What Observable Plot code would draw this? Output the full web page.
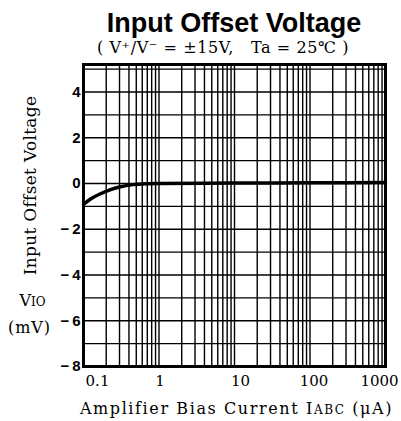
<!DOCTYPE html>
<html>
<head>
<meta charset="utf-8">
<script src="https://cdn.jsdelivr.net/npm/d3@7"></script>
<script src="https://cdn.jsdelivr.net/npm/@observablehq/plot@0.6"></script>
<style>
  html, body { margin: 0; padding: 0; background: #fff; }
  #wrap { position: relative; width: 401px; height: 421px; overflow: hidden; }
  #title { position: absolute; left: 0; top: 11px; width: 468px; text-align: center;
    font: bold 27px "Liberation Sans", Arial, sans-serif; line-height: 24px; color: #000; white-space: nowrap; }
  #subtitle { position: absolute; left: 0; top: 40px; width: 446px; text-align: center;
    font: 16px "DejaVu Serif", serif; line-height: 16px; color: #000; white-space: pre; letter-spacing: 0.6px; }
  #chart { position: absolute; left: 0; top: 56px; }
</style>
</head>
<body>
<div id="wrap">
  <div id="title">Input Offset Voltage</div>
  <div id="subtitle">( V⁺/V⁻ = ±15V,   Ta = 25℃ )</div>
  <div id="chart"></div>
</div>
<script>
// Curve: amplifier bias current (µA) vs input offset voltage (mV)
const biasCurrent   = [0.1, 0.124, 0.168, 0.228, 0.31, 0.45, 0.7, 1, 10, 100, 1000];
const offsetVoltage = [-0.92, -0.68, -0.45, -0.27, -0.14, -0.05, -0.01, 0, 0.02, 0.03, 0.04];

const xTickValues = [0.1, 1, 10, 100, 1000];
const xTickLabels = ["0.1", "1", "10", "100", "1000"];
const yTickValues = [4, 2, 0, -2, -4, -6, -8];
const yGridValues = [-7, -6, -5, -4, -3, -2, -1, 0, 1, 2, 3, 4, 5];
const xGridMantissas = [1, 2, 3, 4, 5, 6, 7, 8, 9];
const xGridDecades = [0.1, 1, 10, 100];

const xLabel = "Amplifier Bias Current IABC (μA)";
const yLabel = "Input Offset Voltage";

const data = biasCurrent.map((x, i) => ({x, y: offsetVoltage[i]}));
const xGrid = xGridDecades.flatMap(d => xGridMantissas.map(m => m * d)).concat([1000]);

const serif = "DejaVu Serif, serif";
const xLabelShift = [14, 1, 6, 4, -6];

const xTickMarks = xTickValues.map((v, i) => Plot.text([v], {
  x: d => d, frameAnchor: "bottom", dy: 19, dx: xLabelShift[i], textAnchor: "middle",
  text: () => xTickLabels[i], fontSize: 15, fontFamily: serif, fill: "#000"
}));

const chart = Plot.plot({
  width: 401, height: 365,
  marginLeft: 83, marginRight: 16, marginTop: 8, marginBottom: 55,
  x: {type: "log", domain: [0.1, 1000], axis: null},
  y: {domain: [-8, 5.2], axis: null},
  style: {background: "#fff", overflow: "visible"},
  marks: [
    Plot.ruleX(xGrid, {x: d => d, stroke: "#000", strokeWidth: 1.4}),
    Plot.ruleY(yGridValues, {y: d => d, stroke: "#000", strokeWidth: 1.4}),
    Plot.line(data, {x: "x", y: "y", curve: "monotone-x", stroke: "#000", strokeWidth: 3.5}),
    Plot.frame({stroke: "#000", strokeWidth: 3}),
    Plot.text(yTickValues, {
      y: d => d, frameAnchor: "left", dx: -3, textAnchor: "end",
      text: d => d < 0 ? "\u2212\u2009" + (-d) : String(d),
      fontSize: 15, fontWeight: "bold", fontFamily: "Liberation Sans, Arial, sans-serif", fill: "#000"
    }),
    ...xTickMarks,
    Plot.text([xLabel], {frameAnchor: "bottom", dy: 47, dx: 2, textAnchor: "middle", text: d => d,
      fontSize: 16, fontFamily: serif, fill: "#000"}),
    Plot.text([yLabel], {frameAnchor: "left", dx: -53, dy: -30, rotate: -90, textAnchor: "middle", text: d => d,
      fontSize: 17, fontFamily: serif, fill: "#000"}),
    Plot.text(["VIO"], {frameAnchor: "left", dx: -51, dy: 85, textAnchor: "middle", text: d => d,
      fontSize: 16, fontFamily: serif, fill: "#000"}),
    Plot.text(["(mV)"], {frameAnchor: "left", dx: -54, dy: 112, textAnchor: "middle", text: d => d,
      fontSize: 16, fontFamily: serif, fill: "#000"})
  ]
});
document.getElementById("chart").appendChild(chart);

// subscripts / small caps in axis labels
d3.select(chart).selectAll("text").each(function() {
  const t = d3.select(this);
  const s = this.textContent;
  if (s === xLabel) {
    t.text(null).attr("letter-spacing", 1.6);
    t.append("tspan").text("Amplifier Bias Current ");
    t.append("tspan").text("I");
    t.append("tspan").attr("font-size", 12).text("ABC");
    t.append("tspan").text(" (μA)");
  } else if (s === "VIO") {
    t.text(null);
    t.append("tspan").text("V");
    t.append("tspan").attr("font-size", 12).text("IO");
  } else if (s === "(mV)") {
    t.attr("letter-spacing", 1);
  } else if (s === yLabel) {
    t.attr("letter-spacing", 0.3);
  }
});
</script>
</body>
</html>
